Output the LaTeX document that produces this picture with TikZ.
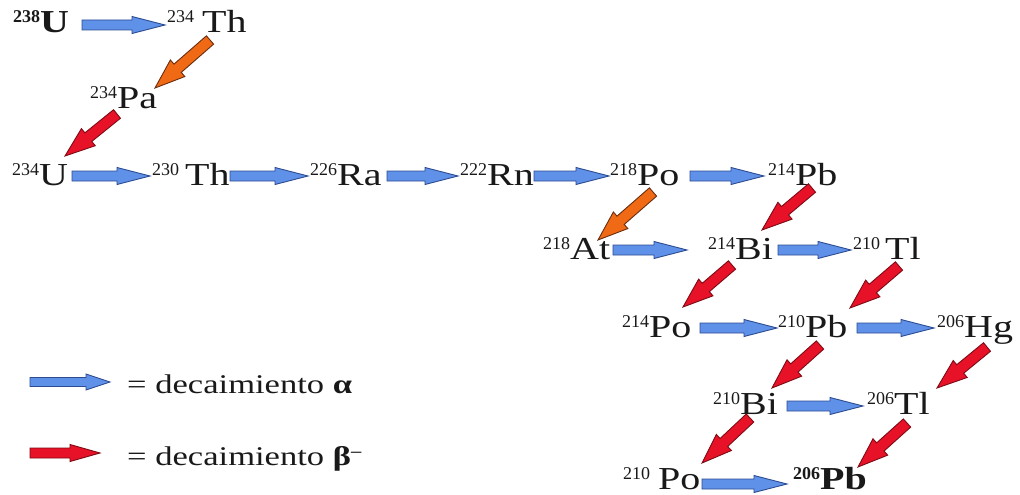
\documentclass[tikz,border=0pt]{standalone}
\usepackage{fontspec}
\setmainfont{Liberation Serif}
\usetikzlibrary{calc}
\definecolor{afill}{RGB}{95,145,232}
\definecolor{adraw}{RGB}{45,75,145}
\definecolor{bfill}{RGB}{232,18,40}
\definecolor{bdraw}{RGB}{125,10,20}
\definecolor{ofill}{RGB}{240,105,20}
\definecolor{odraw}{RGB}{105,45,15}
\definecolor{ink}{RGB}{25,25,25}
\tikzset{
  iso/.style={inner sep=0pt, anchor=base west, text=ink, font=\fontsize{32}{32}\selectfont},
  legtext/.style={inner sep=0pt, anchor=base west, text=ink, font=\fontsize{27}{27}\selectfont},
  alphaarr/.style={fill=afill, draw=adraw, line width=0.9pt, line join=miter},
  betaarr/.style={fill=bfill, draw=bdraw, line width=0.9pt, line join=miter},
  orangearr/.style={fill=ofill, draw=odraw, line width=0.9pt, line join=miter}
}
% block arrow: style, shaft half width, head half width, head length, start, end
\newcommand\blk[6]{%
  \path #5 coordinate (bs) #6 coordinate (be);
  \path ($(be)!#4!(bs)$) coordinate (bh);
  \filldraw[#1] ($(bs)!#2!90:(be)$) -- ($(bh)!#2!90:(be)$) -- ($(bh)!#3!90:(be)$) -- (be)
     -- ($(bh)!#3!-90:(be)$) -- ($(bh)!#2!-90:(be)$) -- ($(bs)!#2!-90:(be)$) -- cycle;
}
\newcommand\aarr[2]{\blk{alphaarr}{5pt}{8.5pt}{33pt}{#1}{#2}}
\newcommand\barr[2]{\blk{betaarr}{5.5pt}{11pt}{30pt}{#1}{#2}}
\newcommand\oarr[2]{\blk{orangearr}{5.5pt}{11pt}{30pt}{#1}{#2}}
% isotope label
\newcommand\el[3][0pt]{\raisebox{10pt}{\fontsize{18}{18}\selectfont #2}\hspace{#1}\scalebox{1.25}[1]{#3}}
\newcommand\elb[3][0pt]{{\bfseries\raisebox{10pt}{\fontsize{18}{18}\selectfont #2}\hspace{#1}\scalebox{1.25}[1]{#3}}}
\begin{document}
\begin{tikzpicture}[x=1pt,y=-1pt]
\useasboundingbox (0,0) rectangle (1020,495);
\fill[white] (0,0) rectangle (1020,495);
% nodes
\node[iso] (u238) at (13,33) {\elb{238}{U}};
\node[iso] (th234) at (167,33) {\el[8pt]{234}{Th}};
\node[iso] (pa234) at (90,108) {\el{234}{Pa}};
\node[iso] (u234) at (12,185) {\el{234}{U}};
\node[iso] (th230) at (152,185) {\el[6pt]{230}{Th}};
\node[iso] (ra226) at (310,185) {\el{226}{Ra}};
\node[iso] (rn222) at (460,185) {\el{222}{Rn}};
\node[iso] (po218) at (610,185) {\el{218}{Po}};
\node[iso] (pb214) at (768,185) {\el{214}{Pb}};
\node[iso] (at218) at (543,259) {\el{218}{At}};
\node[iso] (bi214) at (708,259) {\el{214}{Bi}};
\node[iso] (tl210) at (853,259) {\el[5pt]{210}{Tl}};
\node[iso] (po214) at (622,337) {\el{214}{Po}};
\node[iso] (pb210) at (778,337) {\el{210}{Pb}};
\node[iso] (hg206) at (937,337) {\el{206}{Hg}};
\node[iso] (bi210) at (713,414) {\el{210}{Bi}};
\node[iso] (tl206) at (867,414) {\el{206}{Tl}};
\node[iso] (po210) at (623,489) {\el[8pt]{210}{Po}};
\node[iso] (pb206) at (793,489) {\elb{206}{Pb}};
% alpha decays
\aarr{($(u238.base west)+(69,-8)$)}{($(th234.base west)+(-2,-8)$)}
\aarr{($(u234.base west)+(60,-9)$)}{($(th230.base west)+(-2,-9)$)}
\aarr{($(th230.base west)+(78,-9)$)}{($(ra226.base west)+(-2,-9)$)}
\aarr{($(ra226.base west)+(77,-9)$)}{($(rn222.base west)+(-2,-9)$)}
\aarr{($(rn222.base west)+(74,-9)$)}{($(po218.base west)+(-1,-9)$)}
\aarr{($(po218.base west)+(80,-9)$)}{($(pb214.base west)+(-4,-9)$)}
\aarr{($(at218.base west)+(70,-9)$)}{($(bi214.base west)+(-21,-9)$)}
\aarr{($(bi214.base west)+(70,-9)$)}{($(tl210.base west)+(-2,-9)$)}
\aarr{($(po214.base west)+(78,-9)$)}{($(pb210.base west)+(-1,-9)$)}
\aarr{($(pb210.base west)+(79,-9)$)}{($(hg206.base west)+(-3,-9)$)}
\aarr{($(bi210.base west)+(74,-8)$)}{($(tl206.base west)+(-4,-8)$)}
\aarr{($(po210.base west)+(79,-5)$)}{($(pb206.base west)+(-6,-5)$)}
% beta (orange: branch) decays
\oarr{($(th234.base west)+(43,7)$)}{($(pa234.base west)+(65,-20)$)}
\barr{($(pa234.base west)+(27,6)$)}{($(u234.base west)+(53,-29)$)}
\oarr{($(po218.base west)+(43,7)$)}{($(at218.base west)+(55,-19)$)}
\barr{($(pb214.base west)+(44,3)$)}{($(bi214.base west)+(54,-29)$)}
\barr{($(bi214.base west)+(24,6)$)}{($(po214.base west)+(61,-30)$)}
\barr{($(tl210.base west)+(46,7)$)}{($(pb210.base west)+(72,-29)$)}
\barr{($(pb210.base west)+(42,8)$)}{($(bi210.base west)+(59,-26)$)}
\barr{($(hg206.base west)+(50,10)$)}{($(tl206.base west)+(70,-26)$)}
\barr{($(bi210.base west)+(37,4)$)}{($(po210.base west)+(79,-26)$)}
\barr{($(tl206.base west)+(40,9)$)}{($(pb206.base west)+(65,-22)$)}
% legend
\node[legtext] (lega) at (127,393) {\scalebox{1.28}[1]{= decaimiento {\bfseries α}}};
\node[legtext] (legb) at (127,465) {\scalebox{1.28}[1]{= decaimiento {\bfseries β}\raisebox{9pt}{\fontsize{16}{16}\selectfont\bfseries –}}};
\coordinate (lga) at (30,382);
\coordinate (lgb) at (30,453);
\blk{alphaarr}{4.5pt}{8pt}{24pt}{(lga)}{($(lega.base west)+(-17,-11)$)}
\blk{betaarr}{5pt}{8.5pt}{30pt}{(lgb)}{($(legb.base west)+(-27,-12)$)}
\end{tikzpicture}
\end{document}
